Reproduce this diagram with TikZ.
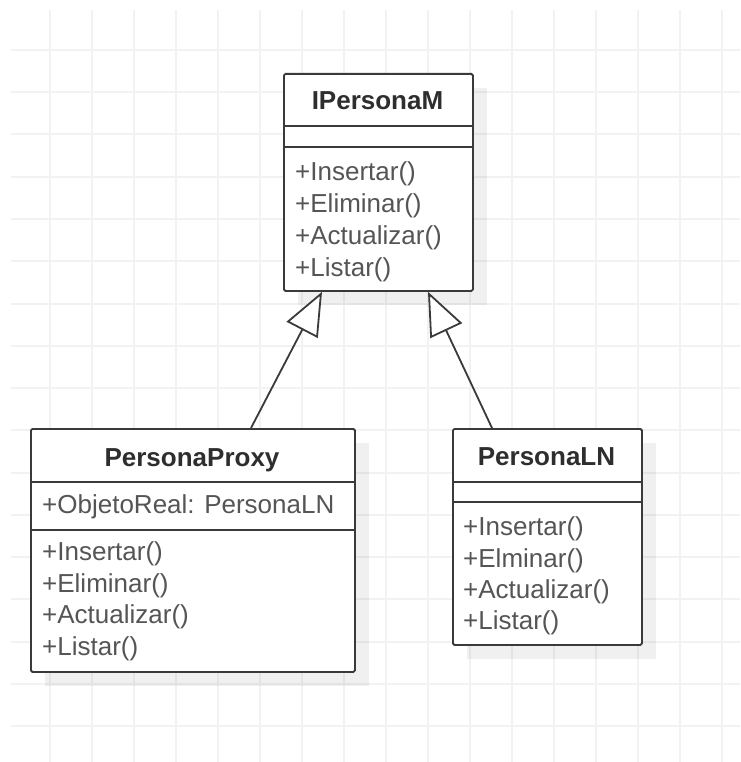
\documentclass[tikz,border=0pt]{standalone}
\usepackage{fontspec}
\setmainfont{Liberation Sans}
\usetikzlibrary{arrows.meta,calc}

\definecolor{gridline}{HTML}{F2F2F2}
\definecolor{boxline}{HTML}{3A3A3A}
\definecolor{titletext}{HTML}{2E2E2E}
\definecolor{membertext}{HTML}{555555}

\tikzset{
  umlbox/.style={draw=boxline, line width=1.8pt, fill=white, rounded corners=1.5pt,
    inner sep=0pt, anchor=north west},
  shadowbox/.style={fill=black, fill opacity=0.06, draw=none},
  divider/.style={draw=boxline, line width=1.8pt},
  classname/.style={font=\fontsize{26}{30}\selectfont\bfseries, text=titletext,
    inner sep=0pt, anchor=base},
  member/.style={font=\fontsize{26}{30}\selectfont, text=membertext,
    inner sep=0pt, anchor=base west},
  realize/.style={draw=boxline, line width=1.8pt,
    -{Triangle[open, length=43pt, width=35pt, fill=white]}},
  gridrule/.style={draw=gridline, line width=2pt},
}

\begin{document}
\begin{tikzpicture}[x=1pt, y=-1pt]
\useasboundingbox (0,0) rectangle (740,762);
\fill[white] (0,0) rectangle (740,762);

% background grid
\foreach \k in {0,...,16} {
  \draw[gridrule] ({50+42*\k},10) -- ({50+42*\k},762);
  \draw[gridrule] (11,{50+42.25*\k}) -- (740,{50+42.25*\k});
}

% drop shadows
\fill[shadowbox] (298,88) rectangle (487,305);
\fill[shadowbox] (45,443) rectangle (369,686);
\fill[shadowbox] (467,443) rectangle (656,659);

% class boxes
\node[umlbox, minimum width=189pt, minimum height=217pt] (ipm) at (283,73) {};
\node[umlbox, minimum width=324pt, minimum height=243pt] (proxy) at (30,428) {};
\node[umlbox, minimum width=189pt, minimum height=216pt] (ln) at (452,428) {};

% compartment dividers
\draw[divider] ($(ipm.north west)+(0,53)$) -- ($(ipm.north east)+(0,53)$);
\draw[divider] ($(ipm.north west)+(0,74)$) -- ($(ipm.north east)+(0,74)$);
\draw[divider] ($(proxy.north west)+(0,54)$) -- ($(proxy.north east)+(0,54)$);
\draw[divider] ($(proxy.north west)+(0,102)$) -- ($(proxy.north east)+(0,102)$);
\draw[divider] ($(ln.north west)+(0,54)$) -- ($(ln.north east)+(0,54)$);
\draw[divider] ($(ln.north west)+(0,74)$) -- ($(ln.north east)+(0,74)$);

% IPersonaM
\node[classname] (ipm-name) at (377.5,110) {IPersonaM};
\node[member] (ipm-m1) at (295,181) {+Insertar()};
\node[member] (ipm-m2) at (295,212) {+Eliminar()};
\node[member] (ipm-m3) at (295,244) {+Actualizar()};
\node[member] (ipm-m4) at (295,276) {+Listar()};

% PersonaProxy
\node[classname] (proxy-name) at (192,466) {PersonaProxy};
\node[member] (proxy-a1) at (42,513) {+ObjetoReal: PersonaLN};
\node[member] (proxy-m1) at (42,560) {+Insertar()};
\node[member] (proxy-m2) at (42,592) {+Eliminar()};
\node[member] (proxy-m3) at (42,623) {+Actualizar()};
\node[member] (proxy-m4) at (42,655) {+Listar()};

% PersonaLN
\node[classname] (ln-name) at (546.5,465) {PersonaLN};
\node[member] (ln-m1) at (463,535) {+Insertar()};
\node[member] (ln-m2) at (463,567) {+Elminar()};
\node[member] (ln-m3) at (463,598) {+Actualizar()};
\node[member] (ln-m4) at (463,629) {+Listar()};

% realization arrows
\draw[realize] ($(proxy.north west)+(221,0)$) -- ($(ipm.south west)+(39,0)$);
\draw[realize] ($(ln.north west)+(40,0)$) -- ($(ipm.south west)+(145,0)$);
\end{tikzpicture}
\end{document}
